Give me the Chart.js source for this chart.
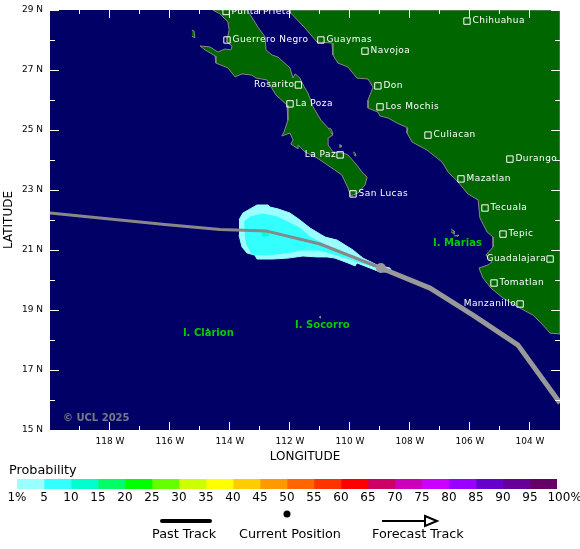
<!DOCTYPE html>
<html>
<head>
<meta charset="utf-8">
<script src="https://cdn.jsdelivr.net/npm/chart.js@4"></script>
<style>
  html, body { margin: 0; padding: 0; background: #fff; }
  #wrap { position: relative; width: 580px; height: 549px; overflow: hidden; font-family: "DejaVu Sans", sans-serif; color: #000; }
  #mapChart, #probBar, #key { position: absolute; left: 0; }
  #mapChart { top: 0; }
  #probBar { top: 460px; }
  #key { top: 0; }
  .txt { position: absolute; font-size: 12.8px; line-height: 16px; white-space: nowrap; }
</style>
</head>
<body>
<div id="wrap">
  <canvas id="mapChart" width="580" height="549"></canvas>
  <canvas id="probBar" width="580" height="60"></canvas>
  <svg id="key" width="580" height="549">
    <line x1="162" y1="521" x2="210" y2="521" stroke="#000" stroke-width="4" stroke-linecap="round"/>
    <circle cx="287" cy="514" r="3.5" fill="#000"/>
    <line x1="382" y1="521" x2="426" y2="521" stroke="#000" stroke-width="2"/>
    <polygon points="425,516 437,521 425,526" fill="none" stroke="#000" stroke-width="2"/>
  </svg>
  <div class="txt" style="left:9px;top:462px">Probability</div>
  <div class="txt" style="left:152px;top:526px">Past Track</div>
  <div class="txt" style="left:239px;top:526px">Current Position</div>
  <div class="txt" style="left:372px;top:526px">Forecast Track</div>
</div>
<script>
// map outlines, lon/lat
const bajaCoast = [[-114.57,29.00],[-114.33,28.87],[-114.07,28.60],[-114.03,28.33],[-114.07,28.13],[-114.10,27.93],[-113.93,27.80],[-113.97,27.67],[-114.17,27.70],[-114.40,27.60],[-114.67,27.77],[-115.00,27.80],[-114.83,27.67],[-114.50,27.47],[-114.47,27.23],[-114.07,27.07],[-113.83,26.77],[-113.60,26.87],[-113.27,26.83],[-113.13,26.73],[-112.77,26.67],[-112.47,26.17],[-112.10,25.83],[-112.07,25.33],[-112.20,24.93],[-112.27,24.80],[-112.00,24.90],[-111.90,24.67],[-111.97,24.53],[-111.73,24.37],[-111.73,24.50],[-111.50,24.27],[-111.10,24.07],[-110.60,23.73],[-110.27,23.50],[-110.07,23.07],[-109.97,22.80],[-109.73,22.90],[-109.50,23.17],[-109.43,23.43],[-109.60,23.60],[-109.77,23.83],[-110.07,24.17],[-110.23,24.23],[-110.57,24.27],[-110.73,24.50],[-110.73,24.73],[-110.57,24.83],[-110.73,25.07],[-110.97,25.33],[-111.23,25.77],[-111.40,26.23],[-111.60,26.57],[-111.67,26.73],[-111.83,26.87],[-111.90,26.73],[-112.00,27.07],[-112.40,27.43],[-112.60,27.50],[-112.80,27.67],[-112.83,28.10],[-113.07,28.43],[-113.17,28.60],[-113.43,29.00]];
const mainlandCoast = [[-112.07,29.00],[-111.50,28.40],[-111.10,27.93],[-110.60,27.90],[-110.57,27.50],[-110.40,27.23],[-110.07,27.10],[-109.77,26.73],[-109.40,26.70],[-109.23,26.43],[-109.40,26.00],[-109.40,25.73],[-109.07,25.60],[-109.00,25.47],[-108.73,25.40],[-108.43,25.23],[-108.07,25.07],[-108.10,24.90],[-107.93,24.60],[-107.43,24.33],[-106.93,23.93],[-106.73,23.60],[-106.40,23.27],[-106.07,22.87],[-105.73,22.67],[-105.67,22.07],[-105.43,21.60],[-105.23,21.43],[-105.23,21.10],[-105.47,20.83],[-105.27,20.60],[-105.40,20.50],[-105.70,20.40],[-105.57,20.07],[-105.30,19.73],[-104.90,19.40],[-104.40,19.10],[-103.90,18.83],[-103.57,18.50],[-103.33,18.23],[-103.00,18.20],[-103.00,29.00]];
const topEdge = [[-114.57,29.00],[-103.00,29.00]];
const islands = [
  [[-115.27,28.33],[-115.20,28.30],[-115.17,28.07],[-115.27,28.13]],
  [[-110.70,25.07],[-110.63,25.03],[-110.57,24.87],[-110.63,24.90]],
  [[-109.90,24.27],[-109.83,24.23],[-109.80,24.13],[-109.87,24.17]],
  [[-110.37,24.50],[-110.30,24.50],[-110.30,24.43],[-110.37,24.43]],
  [[-106.63,21.70],[-106.53,21.63],[-106.53,21.53],[-106.63,21.60]],
  [[-106.53,21.47],[-106.37,21.50],[-106.43,21.43]],
  [[-111.00,18.80],[-110.97,18.77],[-111.00,18.73],[-111.03,18.77]],
  [[-114.77,18.37],[-114.73,18.37],[-114.73,18.33],[-114.77,18.33]]
];

// probability areas
const probOuter = [[-113.70,22.00],[-113.57,22.23],[-113.33,22.37],[-113.10,22.50],[-112.73,22.50],[-112.67,22.43],[-112.40,22.37],[-112.00,22.23],[-111.67,22.00],[-111.33,21.73],[-110.83,21.43],[-110.43,21.33],[-109.90,21.00],[-109.57,20.73],[-109.10,20.50],[-108.67,20.40],[-108.60,20.27],[-109.00,20.27],[-109.77,20.57],[-109.83,20.47],[-110.07,20.57],[-110.50,20.73],[-110.77,20.77],[-111.10,20.77],[-111.57,20.80],[-112.07,20.73],[-112.57,20.70],[-113.10,20.70],[-113.17,20.83],[-113.43,20.90],[-113.60,21.10],[-113.70,21.50]];
const probInner = [[-113.53,21.93],[-113.33,22.10],[-112.93,22.20],[-112.43,22.10],[-112.07,21.93],[-111.67,21.73],[-111.33,21.43],[-110.83,21.17],[-110.67,21.10],[-109.90,20.67],[-109.10,20.43],[-110.43,20.83],[-110.77,20.93],[-111.10,21.00],[-111.60,21.00],[-112.17,20.90],[-112.83,20.83],[-113.27,20.87],[-113.43,21.17],[-113.50,21.50]];
const probCore = [[-112.93,21.60],[-112.73,21.60],[-112.73,21.47],[-112.93,21.47]];

// storm track
const pastTrack = [[-120.00,22.23],[-116.17,21.85],[-114.33,21.68],[-112.77,21.63],[-111.00,21.20],[-108.97,20.40]];
const forecastTrack = [[-108.97,20.40],[-107.33,19.73],[-105.90,18.83],[-104.40,17.83],[-103.00,15.90]];
const currentPos = [[-108.97,20.40]];

// towns: name, lon, lat, label side
const cityNames = ['Punta Prieta','Guerrero Negro','Guaymas','Navojoa','Chihuahua','Don','Los Mochis','Culiacan','Durango','Mazatlan','San Lucas','La Paz','La Poza','Rosarito','Tecuala','Tepic','Guadalajara','Tomatlan','Manzanillo'];
const cityLon = [-114.13,-114.10,-110.97,-109.50,-106.10,-109.07,-109.00,-107.40,-104.67,-106.30,-109.90,-110.33,-112.00,-111.72,-105.50,-104.90,-103.33,-105.20,-104.33];
const cityLat = [28.95,28.00,28.00,27.63,28.63,26.47,25.77,24.83,24.03,23.37,22.87,24.17,25.87,26.50,22.40,21.53,20.70,19.90,19.20];
const citySide = ['r','r','r','r','r','r','r','r','r','r','r','l','r','l','r','r','l','r','l'];

const islandNames = ['I. Marias','I. Clarion','I. Socorro'];
const islandLon = [-107.23,-115.57,-111.83];
const islandLat = [21.23,18.23,18.50];

const xLabels = [-118,-116,-114,-112,-110,-108,-106,-104];
const yLabels = [29,27,25,23,21,19,17,15];

const probLabels = ['1%','5','10','15','20','25','30','35','40','45','50','55','60','65','70','75','80','85','90','95','    100%'];
const probColors = ['#99FFFF','#33FFFF','#00FFCC','#00FF66','#00FF00','#66FF00','#CCFF00','#FFFF00','#FFCC00','#FF9900','#FF6600','#FF3300','#FF0000','#CC0066','#CC00BB','#CC00FF','#9900FF','#6600CC','#660099','#660066'];

const pts = list => list.map(p => ({ x: p[0], y: p[1] }));
const area = (list, color, line) => ({
  data: pts(list), showLine: true, fill: 'shape', backgroundColor: color,
  borderColor: line || color, borderWidth: 1, pointRadius: 0
});
const track = (list, width, color) => ({
  data: pts(list), showLine: true, fill: false, borderColor: color,
  borderWidth: width, pointRadius: 0, borderCapStyle: 'butt', borderJoinStyle: 'round'
});

// written bottom to top, chart.js paints the first dataset last so flip it
const layers = [
  area(mainlandCoast, '#006600', '#888888'),
  area(bajaCoast, '#006600', '#888888'),
  ...islands.map(i => area(i, '#006600', '#888888')),
  track(topEdge, 1, '#888888'),
  area(probOuter, '#99FFFF'),
  area(probInner, '#33FFFF'),
  area(probCore, '#00FFCC'),
  track(pastTrack, 3, '#888888'),
  track(forecastTrack, 5, '#999999'),
  { data: pts(currentPos), pointRadius: 5, pointBackgroundColor: '#999999', pointBorderWidth: 0 },
  { data: cityLon.map((x, i) => ({ x: x, y: cityLat[i] })), pointStyle: 'rect', pointRadius: 4.5,
    pointBackgroundColor: 'rgba(0,0,0,0)', pointBorderColor: '#ffffff', pointBorderWidth: 1 }
].reverse();

const mapBack = {
  id: 'mapBack',
  beforeDatasetsDraw(chart) {
    const a = chart.chartArea, c = chart.ctx;
    c.fillStyle = '#000066';
    c.fillRect(a.left, a.top, a.width, a.height);
  }
};

// white ticks pointing into the map on all four sides, labels on top
const mapOverlay = {
  id: 'mapOverlay',
  afterDatasetsDraw(chart) {
    const a = chart.chartArea, c = chart.ctx;
    const sx = chart.scales.x, sy = chart.scales.y;
    c.save();
    c.strokeStyle = '#ffffff';
    c.lineWidth = 1;
    c.beginPath();
    sx.ticks.forEach(t => {
      if (t.value <= sx.min || t.value >= sx.max) return;
      const px = Math.round(sx.getPixelForValue(t.value)) - 0.5;
      const len = t.value % 2 === 0 ? 8 : 4;
      c.moveTo(px, a.bottom); c.lineTo(px, a.bottom - len);
      c.moveTo(px, a.top); c.lineTo(px, a.top + len);
    });
    sy.ticks.forEach(t => {
      const py = Math.round(sy.getPixelForValue(t.value)) + 0.5;
      const len = Math.abs(t.value % 2) === 1 ? 9 : 5;
      c.moveTo(a.left, py); c.lineTo(a.left + len, py);
      c.moveTo(a.right, py); c.lineTo(a.right - len, py);
    });
    c.stroke();

    c.textBaseline = 'middle';
    c.font = '9px "DejaVu Sans"';
    c.letterSpacing = '0.45px';
    c.fillStyle = '#ffffff';
    cityNames.forEach((name, i) => {
      const px = sx.getPixelForValue(cityLon[i]), py = sy.getPixelForValue(cityLat[i]);
      if (citySide[i] === 'r') { c.textAlign = 'left'; c.fillText(name, px + 5.5, py); }
      else { c.textAlign = 'right'; c.fillText(name, px - 4, py); }
    });

    c.letterSpacing = '0px';
    c.font = 'bold 10px "DejaVu Sans"';
    c.fillStyle = '#00CC00';
    c.textAlign = 'left';
    islandNames.forEach((name, i) => {
      c.fillText(name, sx.getPixelForValue(islandLon[i]), sy.getPixelForValue(islandLat[i]));
    });
    c.fillStyle = '#77778A';
    c.fillText('© UCL 2025', sx.getPixelForValue(-119.57), sy.getPixelForValue(15.4));
    c.restore();
  }
};

new Chart(document.getElementById('mapChart'), {
  type: 'scatter',
  data: { datasets: layers },
  plugins: [mapBack, mapOverlay],
  options: {
    responsive: false,
    animation: false,
    events: [],
    layout: { padding: { top: 10, right: 20, bottom: 79, left: 0 } },
    plugins: { legend: { display: false }, tooltip: { enabled: false } },
    scales: {
      x: {
        type: 'linear', min: -120, max: -103,
        afterFit: s => { s.height = 40; s.paddingLeft = 0; s.paddingRight = 0; },
        grid: { display: false, drawTicks: false }, border: { display: false },
        ticks: {
          stepSize: 1, autoSkip: false, maxRotation: 0, padding: 6, color: '#000',
          font: { family: 'DejaVu Sans', size: 9 },
          callback: v => xLabels.includes(v) ? (-v) + ' W' : ''
        },
        title: { display: true, text: 'LONGITUDE', color: '#000', padding: { top: 0, bottom: 6 },
          font: { family: 'DejaVu Sans', size: 12 } }
      },
      y: {
        type: 'linear', min: 15, max: 29,
        afterFit: s => { s.width = 50; s.paddingTop = 0; s.paddingBottom = 0; },
        grid: { display: false, drawTicks: false }, border: { display: false },
        ticks: {
          stepSize: 1, autoSkip: false, padding: 7, color: '#000',
          font: { family: 'DejaVu Sans', size: 9 },
          callback: v => yLabels.includes(v) ? v + ' N' : ''
        },
        title: { display: true, text: 'LATITUDE', color: '#000', padding: { top: 2, bottom: 0 },
          font: { family: 'DejaVu Sans', size: 12 } }
      }
    }
  }
});

// colour scale under the map
new Chart(document.getElementById('probBar'), {
  type: 'bar',
  data: {
    labels: ['Probability'],
    datasets: probColors.map(col => ({ data: [1], backgroundColor: col, barPercentage: 1, categoryPercentage: 1 }))
  },
  options: {
    indexAxis: 'y',
    responsive: false,
    animation: false,
    events: [],
    layout: { padding: { top: 19, right: 23, bottom: 0, left: 17 } },
    plugins: { legend: { display: false }, tooltip: { enabled: false } },
    scales: {
      x: {
        stacked: true, min: 0, max: probColors.length,
        afterFit: s => { s.height = 31; s.paddingLeft = 0; s.paddingRight = 0; },
        grid: { display: false, drawTicks: false }, border: { display: false },
        ticks: {
          stepSize: 1, autoSkip: false, maxRotation: 0, padding: 2, color: '#000',
          font: { family: 'DejaVu Sans', size: 12 },
          callback: v => probLabels[v]
        }
      },
      y: {
        stacked: true, display: false
      }
    }
  }
});
</script>
</body>
</html>
